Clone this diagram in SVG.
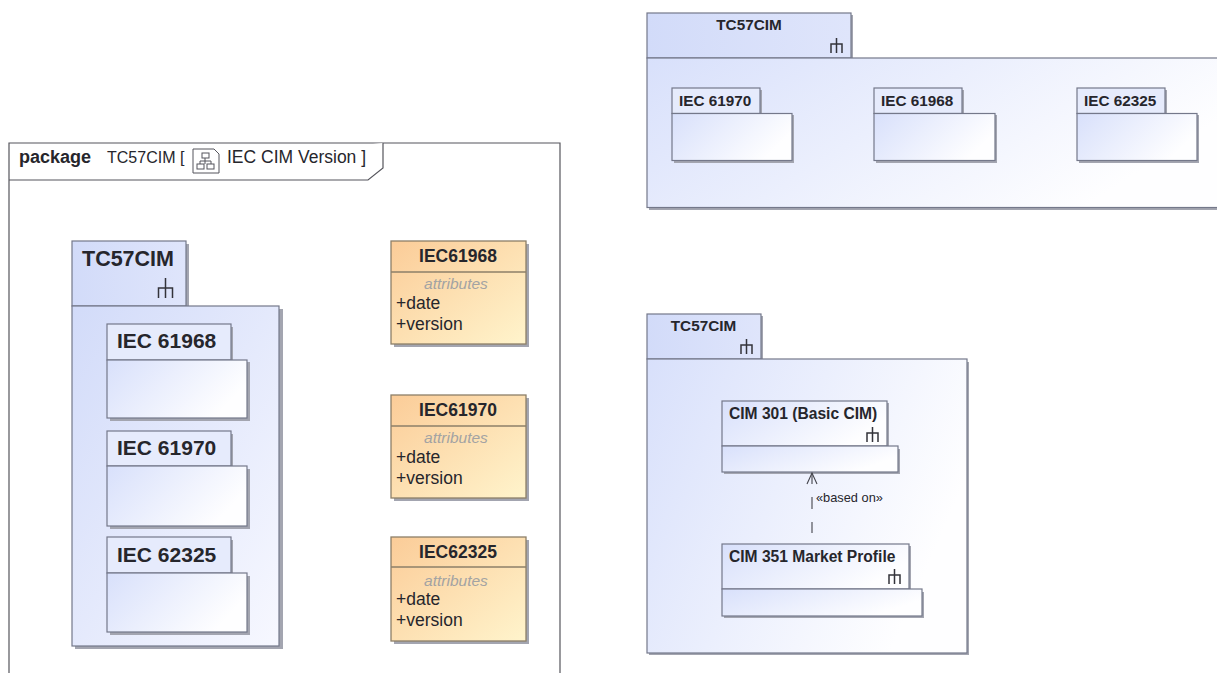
<svg xmlns="http://www.w3.org/2000/svg" width="1217" height="673" viewBox="0 0 1217 673">
<style>
text{font-family:"Liberation Sans",Arial,sans-serif;fill:#26262c}
.b{font-weight:bold}
.pkg{stroke:#74788a;stroke-width:1.2}
.tree{fill:none;stroke:#33333a;stroke-width:1.5}
.cls{stroke:#8d7f68;stroke-width:1.3;fill:none}
.shadow{fill:#a3a5b0}
.big{font-size:21px;font-weight:bold}
.cn{font-size:17.5px;font-weight:bold}
.attr{font-size:15.5px;font-style:italic;fill:#a3a3a3}
.mem{font-size:17.5px}
.sm{font-size:15.3px;font-weight:bold}
.cim{font-size:15.6px;font-weight:bold}
</style>
<defs>
<linearGradient id="g1" x1="0" y1="0" x2="1" y2="1"><stop offset="0" stop-color="#d2dbf9"/><stop offset="1" stop-color="#f7f8ff"/></linearGradient>
<linearGradient id="g2" x1="0" y1="0" x2="1" y2="0.4"><stop offset="0" stop-color="#d8e0fb"/><stop offset="1" stop-color="#feFeff"/></linearGradient>
<linearGradient id="tab" x1="0" y1="0" x2="1" y2="0"><stop offset="0" stop-color="#d2dbf9"/><stop offset="1" stop-color="#dfe5fb"/></linearGradient>
<linearGradient id="o1" x1="0" y1="0" x2="1" y2="1"><stop offset="0" stop-color="#fbcc98"/><stop offset="1" stop-color="#fff4cc"/></linearGradient>
<g id="tree13"><path class="tree" d="M6.5 0V15M1 15V6H12V15"/></g>
<g id="tree17"><path class="tree" d="M8.5 0V20M1.5 20V10H15.5V20"/></g>
</defs>
<g id="frame">
<path d="M9 673V143H560V673" fill="#fff" stroke="#55555c" stroke-width="1.2"/>
<path d="M9 180H368L383 168V143" fill="#fff" stroke="#55555c" stroke-width="1.2"/>
<text x="19" y="163" font-size="18" class="b">package</text>
<text x="107" y="163" font-size="16">TC57CIM [</text>
<g fill="none" stroke="#55555c" stroke-width="1"><path d="M193 149H214L219 154V173H193Z"/><rect x="202" y="153" width="7" height="5"/><rect x="197" y="164" width="7" height="5"/><rect x="207" y="164" width="7" height="5"/><path d="M205 158V164M200 164V161H211V164"/></g>
<text x="227" y="163" font-size="17.5">IEC CIM Version ]</text>
</g>
<g id="pkg-left">
<rect x="75" y="244" width="114" height="66" class="shadow"/><rect x="75" y="309" width="208" height="340" class="shadow"/>
<rect x="72" y="241" width="114" height="65" fill="url(#tab)" class="pkg"/>
<rect x="72" y="306" width="207" height="340" fill="url(#g1)" class="pkg"/>
<text x="82" y="266" class="big" style="font-size:21.5px">TC57CIM</text>
<use href="#tree17" x="157" y="278"/>
</g>
<g id="pkg-61968-l">
<rect x="110" y="327" width="123" height="36" class="shadow"/><rect x="110" y="362" width="140" height="59" class="shadow"/>
<rect x="107" y="324" width="124" height="36" fill="#e6ebfc" class="pkg"/>
<rect x="107" y="360" width="140" height="58" fill="url(#g2)" class="pkg"/>
<text x="117" y="348" class="big">IEC 61968</text>
</g>
<g id="pkg-61970-l">
<rect x="110" y="434" width="123" height="35" class="shadow"/><rect x="110" y="469" width="140" height="60" class="shadow"/>
<rect x="107" y="431" width="124" height="35" fill="#e6ebfc" class="pkg"/>
<rect x="107" y="466" width="140" height="60" fill="url(#g2)" class="pkg"/>
<text x="117" y="455" class="big">IEC 61970</text>
</g>
<g id="pkg-62325-l">
<rect x="110" y="540" width="123" height="36" class="shadow"/><rect x="110" y="576" width="140" height="59" class="shadow"/>
<rect x="107" y="537" width="124" height="36" fill="#e6ebfc" class="pkg"/>
<rect x="107" y="573" width="140" height="59" fill="url(#g2)" class="pkg"/>
<text x="117" y="562" class="big">IEC 62325</text>
</g>
<g id="class-61968">
<rect x="394" y="244" width="135" height="103" class="shadow"/>
<rect x="391" y="241" width="135" height="103" fill="url(#o1)"/>
<rect x="391" y="241" width="135" height="103" class="cls"/>
<path d="M391 272H526" class="cls"/>
<text x="458" y="262" text-anchor="middle" class="cn">IEC61968</text>
<text x="456" y="289" text-anchor="middle" class="attr">attributes</text>
<text x="396" y="309" class="mem">+date</text>
<text x="396" y="330" class="mem">+version</text>
</g>
<g id="class-61970">
<rect x="394" y="398" width="135" height="103" class="shadow"/>
<rect x="391" y="395" width="135" height="103" fill="url(#o1)"/>
<rect x="391" y="395" width="135" height="103" class="cls"/>
<path d="M391 426H526" class="cls"/>
<text x="458" y="416" text-anchor="middle" class="cn">IEC61970</text>
<text x="456" y="443" text-anchor="middle" class="attr">attributes</text>
<text x="396" y="463" class="mem">+date</text>
<text x="396" y="484" class="mem">+version</text>
</g>
<g id="class-62325">
<rect x="394" y="540" width="135" height="104" class="shadow"/>
<rect x="391" y="537" width="135" height="104" fill="url(#o1)"/>
<rect x="391" y="537" width="135" height="104" class="cls"/>
<path d="M391 567H526" class="cls"/>
<text x="458" y="558" text-anchor="middle" class="cn">IEC62325</text>
<text x="456" y="586" text-anchor="middle" class="attr">attributes</text>
<text x="396" y="605" class="mem">+date</text>
<text x="396" y="626" class="mem">+version</text>
</g>
<g id="pkg-top">
<rect x="649" y="15" width="204" height="46" class="shadow"/><rect x="649" y="61" width="568" height="149" class="shadow"/>
<rect x="647" y="13" width="204" height="45" fill="url(#tab)" class="pkg"/>
<rect x="647" y="58" width="575" height="149.500" fill="url(#g2)" class="pkg"/>
<text x="749" y="30" text-anchor="middle" class="sm">TC57CIM</text>
<use href="#tree13" x="830" y="38"/>
</g>
<g id="pkg-61970-t">
<rect x="674" y="90" width="88" height="25" class="shadow"/><rect x="674" y="115" width="120" height="48" class="shadow"/>
<rect x="672" y="88" width="88" height="25.500" fill="#e6ebfc" class="pkg"/>
<rect x="672" y="113.500" width="120" height="47" fill="url(#g2)" class="pkg"/>
<text x="679" y="106" class="sm">IEC 61970</text>
</g>
<g id="pkg-61968-t">
<rect x="876" y="90" width="88" height="25" class="shadow"/><rect x="876" y="115" width="121" height="48" class="shadow"/>
<rect x="874" y="88" width="88" height="25.500" fill="#e6ebfc" class="pkg"/>
<rect x="874" y="113.500" width="121" height="47" fill="url(#g2)" class="pkg"/>
<text x="881" y="106" class="sm">IEC 61968</text>
</g>
<g id="pkg-62325-t">
<rect x="1079" y="90" width="88" height="25" class="shadow"/><rect x="1079" y="115" width="120" height="48" class="shadow"/>
<rect x="1077" y="88" width="88" height="25.500" fill="#e6ebfc" class="pkg"/>
<rect x="1077" y="113.500" width="120" height="47" fill="url(#g2)" class="pkg"/>
<text x="1084" y="106" class="sm">IEC 62325</text>
</g>
<g id="pkg-bottom">
<rect x="649" y="316" width="114" height="46" class="shadow"/><rect x="649" y="362" width="320" height="293" class="shadow"/>
<rect x="647" y="314" width="114" height="45" fill="url(#tab)" class="pkg"/>
<rect x="647" y="359" width="320" height="294" fill="url(#g2)" class="pkg"/>
<text x="703.500" y="331" text-anchor="middle" class="sm">TC57CIM</text>
<use href="#tree13" x="740" y="339"/>
</g>
<g id="pkg-cim301">
<rect x="724" y="403" width="165" height="46" class="shadow"/><rect x="724" y="449" width="176" height="25" class="shadow"/>
<rect x="722" y="401" width="165" height="45" fill="url(#g2)" class="pkg"/>
<rect x="722" y="446" width="176" height="26" fill="url(#g2)" class="pkg"/>
<text x="729" y="419" class="cim">CIM 301 (Basic CIM)</text>
<use href="#tree13" x="866" y="427" />
</g>
<g id="pkg-cim351">
<rect x="724" y="546" width="187" height="46" class="shadow"/><rect x="724" y="592" width="200" height="26" class="shadow"/>
<rect x="722" y="544" width="187" height="45" fill="url(#g2)" class="pkg"/>
<rect x="722" y="589" width="200" height="27" fill="url(#g2)" class="pkg"/>
<text x="729" y="562" class="cim">CIM 351 Market Profile</text>
<use href="#tree13" x="888" y="569"/>
</g>
<g id="connectors" fill="none" stroke="#44444c" stroke-width="1.1">
<path d="M812 473V484M812 497V509M812 522V533"/>
<path d="M807 484L812 473L817 484"/>
</g>
<text x="816" y="502" font-size="12.800" id="label-based-on">«based on»</text>
</svg>
